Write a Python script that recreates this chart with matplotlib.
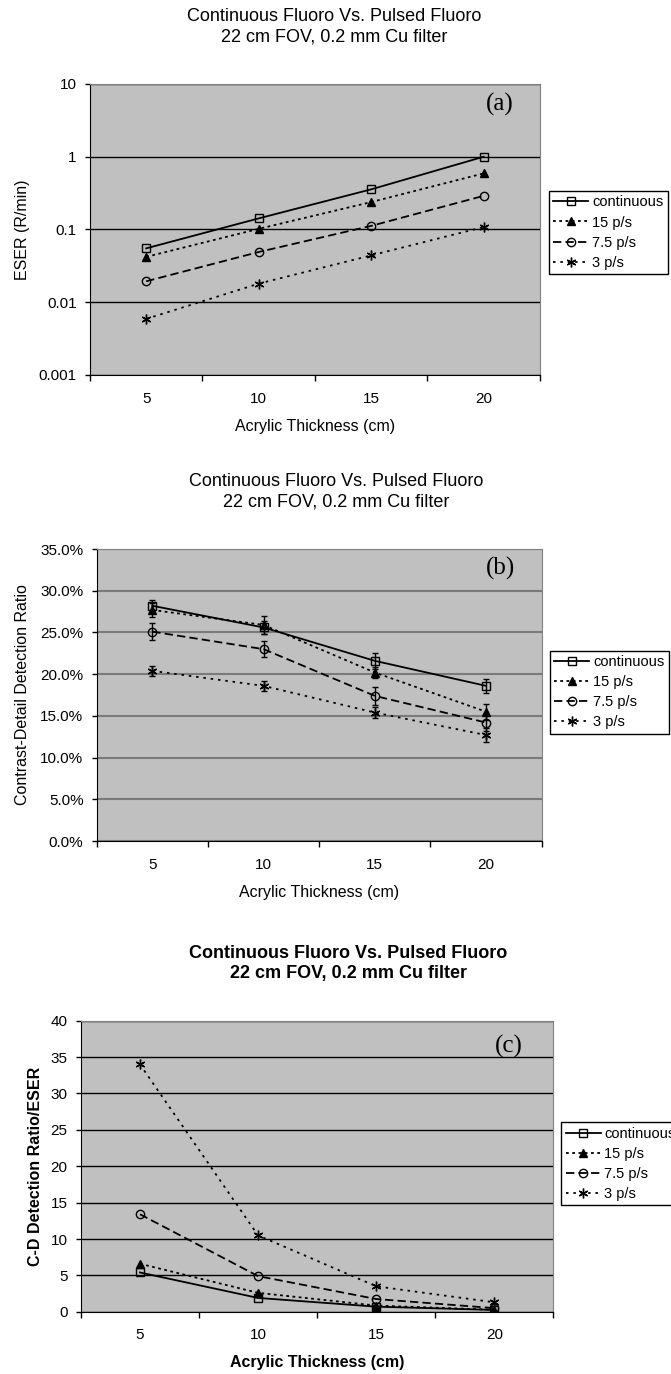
import numpy as np
import matplotlib
matplotlib.use("Agg")
import matplotlib.pyplot as plt
from matplotlib.ticker import FixedLocator, FuncFormatter

plt.rcParams['font.family'] = ['Liberation Sans', 'DejaVu Sans']
plt.rcParams['lines.scale_dashes'] = False

# data
thickness = [5, 10, 15, 20]
names = ['continuous', '15 p/s', '7.5 p/s', '3 p/s']

eser_cont = [0.055, 0.142, 0.356, 1.0]
eser_15 = [0.042, 0.102, 0.238, 0.59]
eser_75 = [0.0194, 0.049, 0.112, 0.29]
eser_3 = [0.0059, 0.018, 0.044, 0.108]

cd_cont = [28.2, 25.6, 21.6, 18.6]
cd_15 = [27.7, 25.9, 20.2, 15.5]
cd_75 = [25.1, 23.0, 17.4, 14.2]
cd_3 = [20.4, 18.6, 15.4, 12.7]
cd_err_cont = [0.75, 0.8, 0.95, 0.8]
cd_err_15 = [0.8, 1.1, 0.7, 0.95]
cd_err_75 = [1.0, 1.0, 1.05, 1.0]
cd_err_3 = [0.6, 0.6, 0.65, 0.85]

ratio_cont = [5.4, 1.9, 0.7, 0.25]
ratio_15 = [6.6, 2.6, 0.85, 0.27]
ratio_75 = [13.4, 4.9, 1.75, 0.5]
ratio_3 = [34.0, 10.5, 3.5, 1.3]

title = "Continuous Fluoro Vs. Pulsed Fluoro\n22 cm FOV, 0.2 mm Cu filter"
xlab = "Acrylic Thickness (cm)"

styles = [
    dict(ls='-', marker='s', mfc='none', ms=6),
    dict(ls=(0, (2, 2.5)), marker='^', mfc='black', ms=6),
    dict(ls=(0, (6, 3)), marker='o', mfc='none', ms=6),
    dict(ls=(0, (1.8, 3.5)), marker=(6, 2, 0), mfc='none', ms=7),
]

GRAY = '#c0c0c0'
pos = np.arange(1, len(thickness) + 1)


def style_axis(ax, grid_color, grid_lw):
    ax.set_facecolor(GRAY)
    ax.set_xlim(0.5, len(thickness) + 0.5)
    ax.xaxis.set_major_locator(FixedLocator(pos))
    ax.set_xticklabels([str(t) for t in thickness])
    ax.xaxis.set_minor_locator(FixedLocator(np.arange(0.5, len(thickness) + 1, 1.0)))
    ax.tick_params(axis='x', which='major', length=0, pad=12, labelsize=11)
    ax.tick_params(axis='x', which='minor', length=4, width=1, direction='out')
    ax.tick_params(axis='y', which='major', length=3.5, width=1, direction='out', pad=6, labelsize=11)
    ax.tick_params(axis='y', which='minor', length=0)
    ax.yaxis.grid(True, color=grid_color, lw=grid_lw)
    ax.set_axisbelow(True)
    for s in ['top', 'right']:
        ax.spines[s].set_color('#808080')
    for s in ['left', 'bottom']:
        ax.spines[s].set_color('black')


def add_legend(ax, lines, x, y):
    leg = ax.legend(lines, names, loc='upper left', bbox_to_anchor=(x, y),
                    fontsize=10.5, frameon=True, fancybox=False, framealpha=1,
                    edgecolor='black', handlelength=2.4, handletextpad=0.25,
                    labelspacing=0.42, borderpad=0.3, borderaxespad=0, numpoints=1)
    leg.get_frame().set_linewidth(1.0)
    return leg


fig = plt.figure(figsize=(6.71, 13.74), dpi=100)

# (a) ESER, log scale
ax1 = fig.add_axes([0.1341, 0.7271, 0.6706, 0.2118])
style_axis(ax1, 'black', 1.0)
lines = []
for vals, st in zip([eser_cont, eser_15, eser_75, eser_3], styles):
    ln, = ax1.plot(pos, vals, color='black', lw=1.3, mec='black', mew=1.0, **st)
    lines.append(ln)
ax1.set_yscale('log')
ax1.set_ylim(0.001, 10)
ax1.yaxis.set_major_locator(FixedLocator([0.001, 0.01, 0.1, 1, 10]))
ax1.yaxis.set_minor_locator(FixedLocator([]))
ax1.yaxis.set_major_formatter(FuncFormatter(lambda v, p: f"{v:g}"))
ax1.set_ylabel("ESER (R/min)", fontsize=11.5)
ax1.yaxis.set_label_coords(-0.133, 0.5)
ax1.set_xlabel(xlab, fontsize=11.5, va='center')
ax1.xaxis.set_label_coords(0.5, -0.177)
ax1.text(0.911, 0.928, "(a)", transform=ax1.transAxes, ha='center', va='center',
         family='Liberation Serif', fontsize=18)
add_legend(ax1, lines, 1.02, 0.632)
fig.text(334 / 671, 1 - 27 / 1374, title, ha='center', va='center', fontsize=13,
         linespacing=1.3)

# (b) contrast-detail detection ratio
ax2 = fig.add_axes([0.1441, 0.3879, 0.6632, 0.2125])
style_axis(ax2, '#7a7a7a', 1.5)
lines = []
for vals, errs, st in zip([cd_cont, cd_15, cd_75, cd_3],
                          [cd_err_cont, cd_err_15, cd_err_75, cd_err_3], styles):
    ax2.errorbar(pos, vals, yerr=errs, fmt='none', ecolor='black', elinewidth=1,
                 capsize=2.5, capthick=1)
    ln, = ax2.plot(pos, vals, color='black', lw=1.3, mec='black', mew=1.0, **st)
    lines.append(ln)
ax2.set_ylim(0, 35)
ax2.yaxis.set_major_locator(FixedLocator(np.arange(0, 36, 5)))
ax2.yaxis.set_major_formatter(FuncFormatter(lambda v, p: f"{v:.1f}%"))
ax2.set_ylabel("Contrast-Detail Detection Ratio", fontsize=11.5)
ax2.yaxis.set_label_coords(-0.15, 0.5)
ax2.set_xlabel(xlab, fontsize=11.5, va='center')
ax2.xaxis.set_label_coords(0.5, -0.177)
ax2.text(0.9076, 0.935, "(b)", transform=ax2.transAxes, ha='center', va='center',
         family='Liberation Serif', fontsize=18)
add_legend(ax2, lines, 1.0187, 0.652)
fig.text(336 / 671, 1 - 492 / 1374, title, ha='center', va='center', fontsize=13,
         linespacing=1.3)

# (c) ratio / ESER
ax3 = fig.add_axes([0.1206, 0.0453, 0.704, 0.2118])
style_axis(ax3, 'black', 1.0)
lines = []
for vals, st in zip([ratio_cont, ratio_15, ratio_75, ratio_3], styles):
    ln, = ax3.plot(pos, vals, color='black', lw=1.3, mec='black', mew=1.0, **st)
    lines.append(ln)
ax3.set_ylim(0, 40)
ax3.yaxis.set_major_locator(FixedLocator(np.arange(0, 41, 5)))
ax3.yaxis.set_major_formatter(FuncFormatter(lambda v, p: f"{v:g}"))
ax3.set_ylabel("C-D Detection Ratio/ESER", fontsize=11.5, fontweight='bold')
ax3.yaxis.set_label_coords(-0.08, 0.5)
ax3.set_xlabel(xlab, fontsize=11.5, fontweight='bold', va='center')
ax3.xaxis.set_label_coords(0.5, -0.175)
ax3.text(0.906, 0.911, "(c)", transform=ax3.transAxes, ha='center', va='center',
         family='Liberation Serif', fontsize=18)
add_legend(ax3, lines, 1.017, 0.651)
fig.text(348 / 671, 1 - 963.5 / 1374, title, ha='center', va='center', fontsize=13,
         fontweight='bold', linespacing=1.3)

fig.savefig("out.png", dpi=100)
